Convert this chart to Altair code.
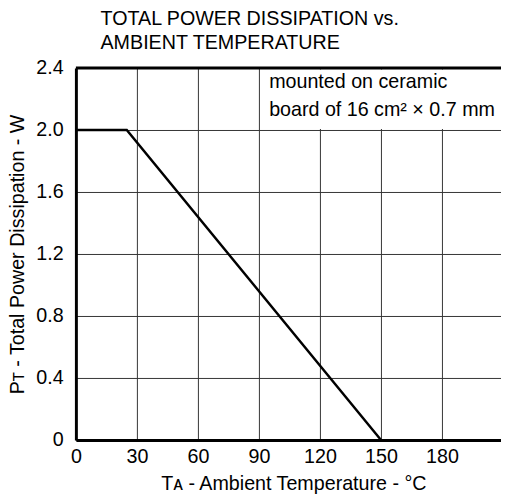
import altair as alt
import pandas as pd

# Data
temp = [0, 25, 150]
power = [2.0, 2.0, 0.0]
x_ticks = [0, 30, 60, 90, 120, 150, 180]
y_ticks = [0, 0.4, 0.8, 1.2, 1.6, 2.0, 2.4]
title_lines = ["TOTAL POWER DISSIPATION vs.", "AMBIENT TEMPERATURE"]
note_lines = ["mounted on ceramic", "board of 16 cm\u00b2 \u00d7 0.7 mm"]

FONT = "Liberation Sans"
FS = 20
XMAX = 209

df = pd.DataFrame({"t": temp, "p": power})

xs = alt.Scale(domain=[0, XMAX], nice=False, zero=False)
ys = alt.Scale(domain=[0, 2.4], nice=False)

base = alt.Chart(df)

line = base.mark_line(color="black", strokeWidth=2.5, clip=True).encode(
    x=alt.X("t:Q", scale=xs,
            axis=alt.Axis(values=x_ticks, title="T\u1d00 - Ambient Temperature - \u00b0C",
                          grid=True, gridColor="#333333", gridWidth=1,
                          ticks=False, labelPadding=7, labelFontSize=FS, labelFont=FONT,
                          labelColor="black", titleFont=FONT, titleFontSize=FS,
                          titleFontWeight="normal", titleColor="black", titlePadding=7,
                          titleX=221,
                          domainColor="black", domainWidth=3, labelFlush=False)),
    y=alt.Y("p:Q", scale=ys,
            axis=alt.Axis(values=y_ticks, title="P\u1d1b - Total Power Dissipation - W",
                          labelExpr="datum.value == 0 ? '0' : format(datum.value, '.1f')",
                          grid=True, gridColor="#333333", gridWidth=1,
                          ticks=False, labelPadding=13, labelFontSize=FS, labelFont=FONT,
                          labelColor="black", titleFont=FONT, titleFontSize=FS,
                          titleFontWeight="normal", titleColor="black", titlePadding=8,
                          domainColor="black", domainWidth=3, labelFlush=False)),
)

box = alt.Chart(pd.DataFrame({"x1": [91], "x2": [XMAX], "y1": [2.006], "y2": [2.39]})).mark_rect(
    color="white").encode(
    x=alt.X("x1:Q", scale=xs), x2="x2:Q",
    y=alt.Y("y1:Q", scale=ys), y2="y2:Q")

note = alt.Chart(pd.DataFrame({"x": [95], "y": [2.27], "txt": [note_lines]})).mark_text(
    font=FONT, fontSize=FS, align="left", baseline="alphabetic", lineHeight=28, color="black").encode(
    x=alt.X("x:Q", scale=xs), y=alt.Y("y:Q", scale=ys), text="txt")

top = alt.Chart(pd.DataFrame({"y": [2.4]})).mark_rule(color="black", strokeWidth=3).encode(
    y=alt.Y("y:Q", scale=ys))

chart = alt.layer(box, top, line, note).properties(
    width=432, height=378,
    title=alt.TitleParams(title_lines, anchor="start", frame="group", font=FONT, fontSize=FS,
                          fontWeight="normal", color="black", dx=25, offset=5, lineHeight=25),
    autosize=alt.AutoSizeParams(type="none"),
    padding={"left": 69, "top": 57, "right": 0, "bottom": 55},
).configure_view(stroke=None).configure(background="white")

chart.save("out.html", embed_options={"renderer": "svg", "actions": False})
